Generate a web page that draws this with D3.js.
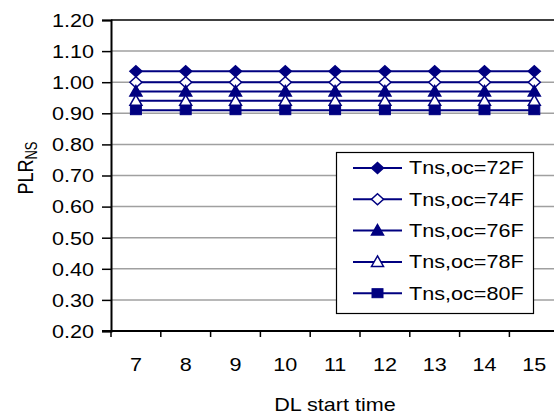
<!DOCTYPE html>
<html>
<head>
<meta charset="utf-8">
<script src="https://cdn.jsdelivr.net/npm/d3@7"></script>
<style>
  html, body { margin: 0; padding: 0; background: #fff; }
  svg { display: block; font-family: "Liberation Sans", Arial, sans-serif; }
</style>
</head>
<body>
<svg id="chart" width="554" height="416"></svg>
<script>
// Part-load ratio of the non-storage system vs. demand-limiting start hour
const startTimes = [7, 8, 9, 10, 11, 12, 13, 14, 15];
const seriesNames = ["Tns,oc=72F", "Tns,oc=74F", "Tns,oc=76F", "Tns,oc=78F", "Tns,oc=80F"];
const plr72 = [1.035, 1.035, 1.035, 1.035, 1.035, 1.035, 1.035, 1.035, 1.035];
const plr74 = [1.00, 1.00, 1.00, 1.00, 1.00, 1.00, 1.00, 1.00, 1.00];
const plr76 = [0.97, 0.97, 0.97, 0.97, 0.97, 0.97, 0.97, 0.97, 0.97];
const plr78 = [0.94, 0.94, 0.94, 0.94, 0.94, 0.94, 0.94, 0.94, 0.94];
const plr80 = [0.91, 0.91, 0.91, 0.91, 0.91, 0.91, 0.91, 0.91, 0.91];
const yTicks = [0.20, 0.30, 0.40, 0.50, 0.60, 0.70, 0.80, 0.90, 1.00, 1.10, 1.20];

const seriesValues = [plr72, plr74, plr76, plr78, plr80];
const markerKinds = ["diamondFill", "diamondOpen", "triangleFill", "triangleOpen", "squareFill"];

const navy = "#000080";
const svg = d3.select("#chart");

const plot = { left: 111, top: 20, bottom: 331, band: 49.8 };
plot.right = plot.left + plot.band * startTimes.length;

const x = d3.scaleBand().domain(startTimes).range([plot.left, plot.right]).padding(0);
const y = d3.scaleLinear().domain([0.2, 1.2]).range([plot.bottom, plot.top]);

// text is drawn slightly wide, like the rest of the figure
const SX = 1.2;
function stretchedText(sel, tx, ty, rotate) {
  return sel.attr("transform", `translate(${tx},${ty}) scale(${SX},1)` + (rotate ? ` rotate(${rotate})` : ""));
}

// Gridlines
svg.append("g")
  .selectAll("line")
  .data(yTicks.filter(t => t > 0.2 && t < 1.2))
  .join("line")
  .attr("x1", plot.left).attr("x2", plot.right)
  .attr("y1", d => y(d)).attr("y2", d => y(d))
  .attr("stroke", "#a0a0a0").attr("stroke-width", 1.5);

// top border of the plot area
svg.append("line")
  .attr("x1", plot.left).attr("x2", plot.right)
  .attr("y1", y(1.2)).attr("y2", y(1.2))
  .attr("stroke", "#000").attr("stroke-width", 1.5);

// Y axis
const yAxis = d3.axisLeft(y).tickValues(yTicks).tickSize(9).tickFormat(d3.format(".2f"));
const gy = svg.append("g").attr("transform", `translate(${plot.left},0)`).call(yAxis);
gy.select(".domain").attr("stroke", "#000").attr("stroke-width", 2);
gy.selectAll(".tick line").attr("stroke", "#000").attr("stroke-width", 1.5);
gy.selectAll(".tick text").remove();
gy.selectAll(".tick").each(function(d) {
  const t = d3.select(this).append("text")
    .attr("text-anchor", "end").attr("dy", "0.35em")
    .attr("font-size", 18).attr("fill", "#000")
    .text(d3.format(".2f")(d));
  stretchedText(t, -17, 0);
});

// X axis: ticks on category boundaries, labels at centres
const gx = svg.append("g").attr("transform", `translate(0,${plot.bottom})`);
gx.append("line")
  .attr("x1", plot.left - 9).attr("x2", plot.right)
  .attr("stroke", "#000").attr("stroke-width", 2);
gx.selectAll("line.tk")
  .data(startTimes.map((d, i) => i))
  .join("line").attr("class", "tk")
  .attr("x1", i => plot.left + i * x.bandwidth()).attr("x2", i => plot.left + i * x.bandwidth())
  .attr("y1", 0).attr("y2", 6)
  .attr("stroke", "#000").attr("stroke-width", 1.5);
gx.selectAll("text.lbl")
  .data(startTimes)
  .join("text").attr("class", "lbl")
  .attr("text-anchor", "middle").attr("font-size", 18).attr("fill", "#000")
  .text(d => d)
  .each(function(d) { stretchedText(d3.select(this), x(d) + x.bandwidth() / 2, 40); });

// Axis titles
stretchedText(
  svg.append("text").attr("text-anchor", "middle").attr("font-size", 18).attr("fill", "#000").text("DL start time"),
  335, 411);

const yTitle = svg.append("text").attr("text-anchor", "middle").attr("font-size", 18).attr("fill", "#000");
yTitle.append("tspan").text("PLR");
yTitle.append("tspan").attr("font-size", 13).attr("dy", 3).text("NS");
stretchedText(yTitle, 33, 168, -90);

// Markers
function drawMarker(g, kind, cx, cy) {
  const fill = kind.endsWith("Fill") ? navy : "#fff";
  if (kind.startsWith("diamond")) {
    g.append("path")
      .attr("d", `M${cx},${cy - 5.5}L${cx + 6},${cy}L${cx},${cy + 5.5}L${cx - 6},${cy}Z`)
      .attr("fill", fill).attr("stroke", navy).attr("stroke-width", 1.5);
  } else if (kind.startsWith("triangle")) {
    g.append("path")
      .attr("d", `M${cx},${cy - 6}L${cx + 6},${cy + 4.5}L${cx - 6},${cy + 4.5}Z`)
      .attr("fill", fill).attr("stroke", navy).attr("stroke-width", 1.5);
  } else {
    g.append("rect")
      .attr("x", cx - 5.5).attr("y", cy - 4.5).attr("width", 11).attr("height", 9)
      .attr("fill", fill).attr("stroke", navy).attr("stroke-width", 1);
  }
}

const line = d3.line()
  .x((d, i) => x(startTimes[i]) + x.bandwidth() / 2)
  .y(d => y(d));

seriesValues.forEach((vals, s) => {
  const g = svg.append("g");
  g.append("path").attr("d", line(vals))
    .attr("fill", "none").attr("stroke", navy).attr("stroke-width", 2);
  vals.forEach((v, i) => drawMarker(g, markerKinds[s], x(startTimes[i]) + x.bandwidth() / 2, y(v)));
});

// Legend
const lg = svg.append("g");
lg.append("rect")
  .attr("x", 336.5).attr("y", 152.5).attr("width", 197).attr("height", 161)
  .attr("fill", "#fff").attr("stroke", "#000").attr("stroke-width", 1.2);
seriesNames.forEach((name, i) => {
  const cy = 168 + i * 31.3;
  lg.append("line").attr("x1", 353).attr("x2", 402).attr("y1", cy).attr("y2", cy)
    .attr("stroke", navy).attr("stroke-width", 2);
  drawMarker(lg, markerKinds[i], 377.5, cy);
  stretchedText(
    lg.append("text").attr("font-size", 18).attr("dy", "0.35em").attr("fill", "#000").text(name),
    409, cy);
});
</script>
</body>
</html>
